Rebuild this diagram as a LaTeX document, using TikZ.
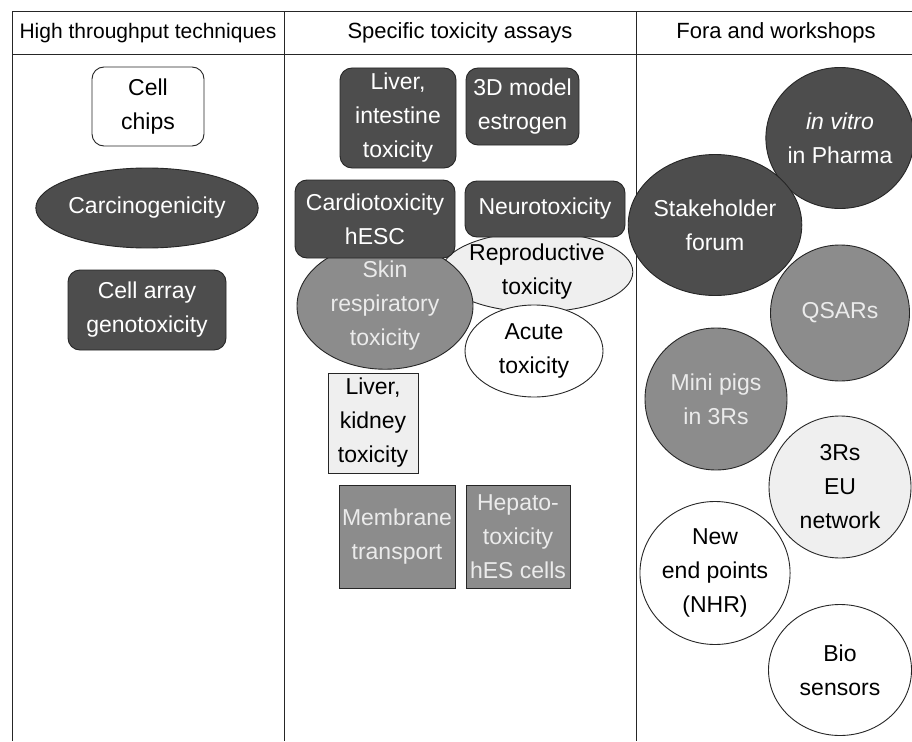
\documentclass[tikz,border=0pt]{standalone}
\usepackage{fontspec}
\setmainfont{Liberation Sans}
\usetikzlibrary{shapes.geometric}
\definecolor{darkfill}{HTML}{4D4D4D}
\definecolor{greyfill}{HTML}{8C8C8C}
\definecolor{paleFill}{HTML}{EFEFEF}
\begin{document}
\begin{tikzpicture}[x=1pt,y=-1pt,
  every node/.style={font=\fontsize{23}{34}\selectfont, align=center, inner sep=0pt},
  rule/.style={line width=1pt, black!85},
  head/.style={font=\fontsize{22}{26}\selectfont},
  shapeline/.style={draw=black!85, line width=0.9pt},
  darkbox/.style={shapeline, rectangle, rounded corners=12pt, fill=darkfill, text=white},
  whitebox/.style={shapeline, rectangle, rounded corners=12pt, fill=white},
  palebox/.style={shapeline, rectangle, fill=paleFill},
  greybox/.style={shapeline, rectangle, fill=greyfill, text=white!92!black},
  darkoval/.style={shapeline, ellipse, fill=darkfill, text=white},
  greyoval/.style={shapeline, ellipse, fill=greyfill, text=white!92!black},
  paleoval/.style={shapeline, ellipse, fill=paleFill},
  whiteoval/.style={shapeline, ellipse, fill=white},
]
\useasboundingbox[fill=white] (0,0) rectangle (912,741);

% table frame
\coordinate (tl) at (12,12);
\coordinate (tr) at (912,12);
\coordinate (bl) at (12,741);
\coordinate (hl) at (12,55);
\coordinate (hr) at (912,55);
\coordinate (c1t) at (284,12);
\coordinate (c1b) at (284,741);
\coordinate (c2t) at (636,12);
\coordinate (c2b) at (636,741);
\draw[rule] (bl) -- (tl) -- (tr);
\draw[rule] (hl) -- (hr);
\draw[rule] (c1t) -- (c1b);
\draw[rule] (c2t) -- (c2b);

% column headings
\node[head, font=\fontsize{21}{26}\selectfont] (h1) at (148,33) {High throughput techniques};
\node[head] (h2) at (460,33) {Specific toxicity assays};
\node[head] (h3) at (776,33) {Fora and workshops};

% high throughput techniques
\node[whitebox, minimum width=112pt, minimum height=79pt] (chips) at (148,106.5) {Cell\\chips};
\node[darkoval, minimum width=204pt, minimum height=80pt] (carc) at (147,208) {Carcinogenicity};
\node[darkbox, minimum width=158pt, minimum height=80pt] (array) at (147,310) {Cell array\\genotoxicity};

% specific toxicity assays
\node[darkbox, minimum width=116pt, minimum height=100pt] (liverint) at (398,118) {Liver,\\intestine\\toxicity};
\node[darkbox, minimum width=113pt, minimum height=77pt] (model) at (522.5,106.5) {3D model\\estrogen};
\node[paleoval, minimum width=172pt, minimum height=80pt] (repro) at (537,272) {Reproductive\\toxicity};
\node[greyoval, minimum width=176pt, minimum height=112pt] (skin) at (385,306) {Skin\\respiratory\\toxicity};
\node[darkbox, minimum width=160pt, minimum height=78pt] (cardio) at (375,219) {Cardiotoxicity\\hESC};
\node[darkbox, minimum width=160pt, minimum height=56pt] (neuro) at (545,209) {Neurotoxicity};
\node[whiteoval, minimum width=138pt, minimum height=92pt] (acute) at (534,351) {Acute\\toxicity};
\node[palebox, minimum width=90pt, minimum height=100pt] (liverkid) at (373,423) {Liver,\\kidney\\toxicity};
\node[greybox, minimum width=116pt, minimum height=103pt] (membrane) at (397,537) {Membrane\\transport};
\node[greybox, minimum width=104pt, minimum height=103pt] (hepato) at (518,537) {Hepato-\\toxicity\\hES cells};

% fora and workshops
\node[darkoval, minimum width=141pt, minimum height=141pt] (invitro) at (840,138) {\textit{in vitro}\\in Pharma};
\node[darkoval, minimum width=141pt, minimum height=141pt] (stake) at (715,225) {Stakeholder\\forum};
\node[greyoval, minimum width=139pt, minimum height=136pt] (qsar) at (840,313) {QSARs};
\node[greyoval, minimum width=142pt, minimum height=142pt] (pigs) at (716,399) {Mini pigs\\in 3Rs};
\node[paleoval, minimum width=142pt, minimum height=142pt] (eu) at (840,487) {3Rs\\EU\\network};
\node[whiteoval, minimum width=143pt, minimum height=143pt] (newep) at (715,573) {New\\end points\\(NHR)};
\node[whiteoval, minimum width=143pt, minimum height=131pt] (bio) at (840,670) {Bio\\sensors};
\end{tikzpicture}
\end{document}
